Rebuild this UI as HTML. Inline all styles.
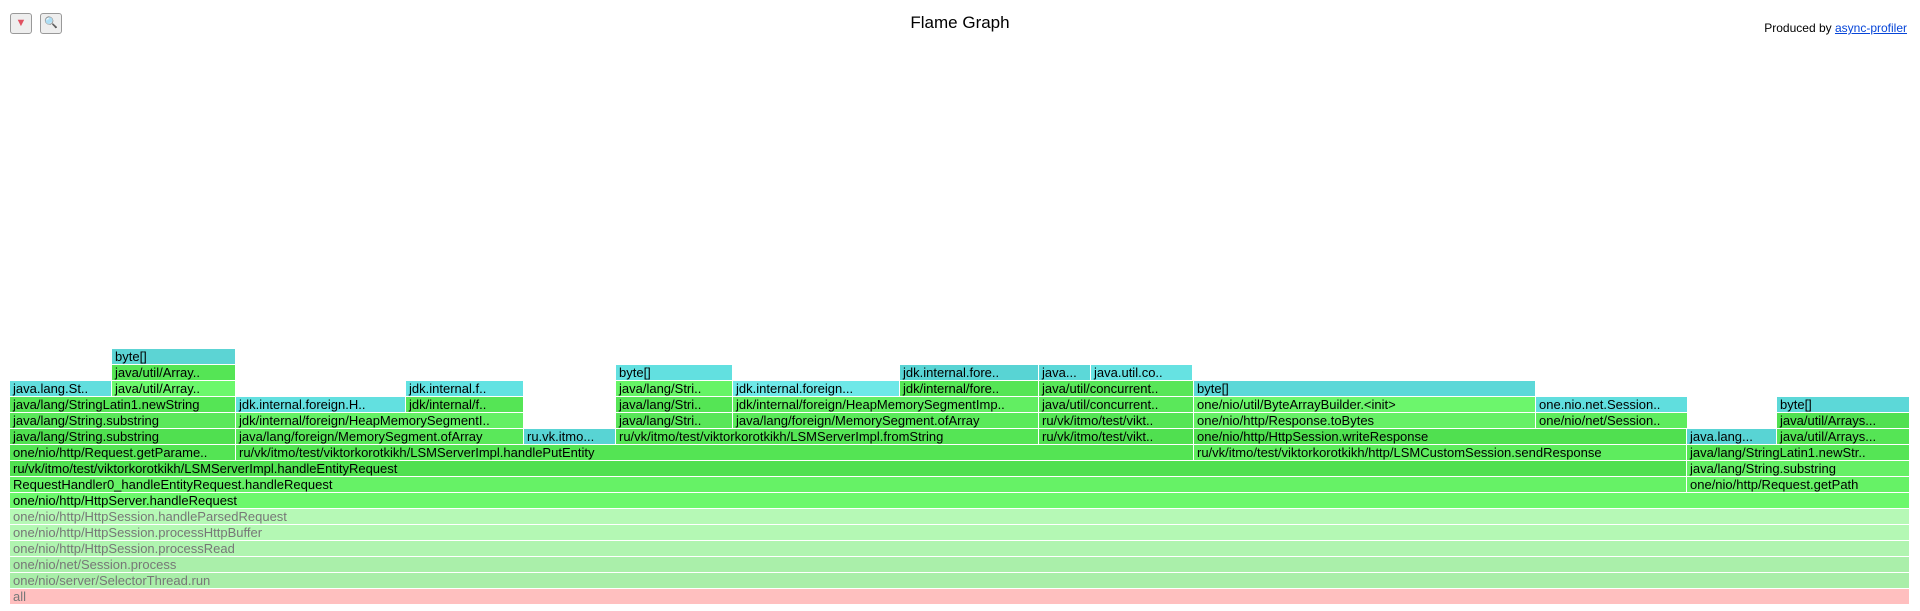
<!DOCTYPE html>
<html><head><meta charset="utf-8"><style>
body{margin:0;width:1920px;height:611px;background:#fff;position:relative;overflow:hidden;font-family:"Liberation Sans",sans-serif}
.f{position:absolute;height:15px;font-size:13px;line-height:15px;padding-left:3px;box-sizing:border-box;white-space:nowrap;overflow:hidden;color:#000}
.btn{position:absolute;top:13px;width:22px;height:21px;border:1px solid #999;border-radius:3px;background:#eee;box-sizing:border-box;font-size:11px;text-align:center;line-height:19px}
#t{position:absolute;top:13px;left:0;width:1920px;text-align:center;font-size:17px}
#p{position:absolute;top:21px;right:13px;font-size:12px}
#p a{color:#0645d8;text-decoration:underline}
</style></head><body>
<div class="btn" style="left:10px;color:#e05060">▼</div>
<div class="btn" style="left:40px;color:#3a6ea5">🔍</div>
<div id="t">Flame Graph</div>
<div id="p">Produced by <a>async-profiler</a></div>
<div id="fr"></div>
<script>
var F=[
[0,10,1910,"all","#ffbfbf","#777"],
[1,10,1910,"one/nio/server/SelectorThread.run","#a9eea9","#777"],
[2,10,1910,"one/nio/net/Session.process","#aaefaa","#777"],
[3,10,1910,"one/nio/http/HttpSession.processRead","#b0f4b0","#777"],
[4,10,1910,"one/nio/http/HttpSession.processHttpBuffer","#b4f8b4","#777"],
[5,10,1910,"one/nio/http/HttpSession.handleParsedRequest","#b6f9b6","#777"],
[6,10,1910,"one/nio/http/HttpServer.handleRequest","#6cf86c"],
[7,10,1687,"RequestHandler0_handleEntityRequest.handleRequest","#66f266"],
[7,1687,1910,"one/nio/http/Request.getPath","#66f266"],
[8,10,1687,"ru/vk/itmo/test/viktorkorotkikh/LSMServerImpl.handleEntityRequest","#50e050"],
[8,1687,1910,"java/lang/String.substring","#66f066"],
[9,10,236,"one/nio/http/Request.getParame..","#54e454"],
[9,236,1194,"ru/vk/itmo/test/viktorkorotkikh/LSMServerImpl.handlePutEntity","#54e454"],
[9,1194,1687,"ru/vk/itmo/test/viktorkorotkikh/http/LSMCustomSession.sendResponse","#5eec5e"],
[9,1687,1910,"java/lang/StringLatin1.newStr..","#55e555"],
[10,10,236,"java/lang/String.substring","#50e050"],
[10,236,524,"java/lang/foreign/MemorySegment.ofArray","#5ae85a"],
[10,524,616,"ru.vk.itmo...","#58d4d4"],
[10,616,1039,"ru/vk/itmo/test/viktorkorotkikh/LSMServerImpl.fromString","#55e555"],
[10,1039,1194,"ru/vk/itmo/test/vikt..","#50e050"],
[10,1194,1687,"one/nio/http/HttpSession.writeResponse","#50e050"],
[10,1687,1777,"java.lang...","#58d4d4"],
[10,1777,1910,"java/util/Arrays...","#55e555"],
[11,10,236,"java/lang/String.substring","#5ae85a"],
[11,236,524,"jdk/internal/foreign/HeapMemorySegmentI..","#64f064"],
[11,616,733,"java/lang/Stri..","#58e658"],
[11,733,1039,"java/lang/foreign/MemorySegment.ofArray","#5aea5a"],
[11,1039,1194,"ru/vk/itmo/test/vikt..","#55e555"],
[11,1194,1536,"one/nio/http/Response.toBytes","#66f066"],
[11,1536,1688,"one/nio/net/Session..","#5eec5e"],
[11,1777,1910,"java/util/Arrays...","#50e050"],
[12,10,236,"java/lang/StringLatin1.newString","#55e555"],
[12,236,406,"jdk.internal.foreign.H..","#62e0e0"],
[12,406,524,"jdk/internal/f..","#55e555"],
[12,616,733,"java/lang/Stri..","#55e555"],
[12,733,1039,"jdk/internal/foreign/HeapMemorySegmentImp..","#62ee62"],
[12,1039,1194,"java/util/concurrent..","#5ae85a"],
[12,1194,1536,"one/nio/util/ByteArrayBuilder.<init>","#6cf66c"],
[12,1536,1688,"one.nio.net.Session..","#60dede"],
[12,1777,1910,"byte[]","#5cd8d8"],
[13,10,112,"java.lang.St..","#62dede"],
[13,112,236,"java/util/Array..","#6cf86c"],
[13,406,524,"jdk.internal.f..","#62e2e2"],
[13,616,733,"java/lang/Stri..","#66f466"],
[13,733,900,"jdk.internal.foreign...","#6ee8e8"],
[13,900,1039,"jdk/internal/fore..","#55e555"],
[13,1039,1194,"java/util/concurrent..","#58e658"],
[13,1194,1536,"byte[]","#5cd8d8"],
[14,112,236,"java/util/Array..","#55e555"],
[14,616,733,"byte[]","#62e0e0"],
[14,900,1039,"jdk.internal.fore..","#58d4d4"],
[14,1039,1091,"java...","#5cd8d8"],
[14,1091,1193,"java.util.co..","#66e2e2"],
[15,112,236,"byte[]","#5cd4d4"]
];
var h="";
F.forEach(function(f){
var t=f[3].replace(/&/g,"&amp;").replace(/</g,"&lt;").replace(/>/g,"&gt;");
h+='<div class="f" style="top:'+(589-16*f[0])+'px;left:'+f[1]+'px;width:'+(f[2]-f[1]-1)+'px;background:'+f[4]+(f[5]?';color:'+f[5]:'')+'">'+t+'</div>';
});
document.getElementById("fr").innerHTML=h;
</script>
</body></html>
